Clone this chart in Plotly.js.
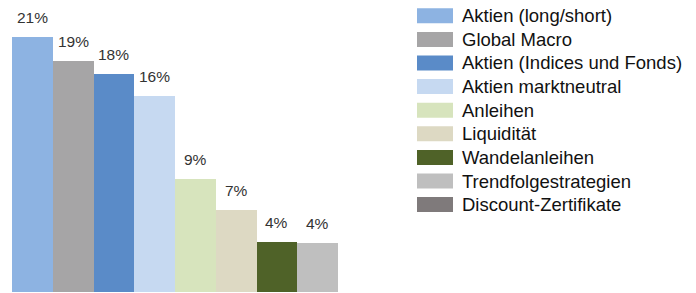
<!DOCTYPE html>
<html>
<head>
<meta charset="utf-8">
<script src="https://cdn.plot.ly/plotly-3.0.1.min.js"></script>
<style>html,body{margin:0;padding:0;background:#fff;}#chart{width:696px;height:293px;}</style>
</head>
<body>
<div id="chart"></div>
<script>
var categories = ["Aktien (long/short)", "Global Macro", "Aktien (Indices und Fonds)", "Aktien marktneutral", "Anleihen", "Liquidität", "Wandelanleihen", "Trendfolgestrategien", "Discount-Zertifikate"];
var values = [21.0, 19.0, 17.9, 16.1, 9.3, 6.7, 4.1, 4.0, null];
var labels = ["21%", "19%", "18%", "16%", "9%", "7%", "4%", "4%", ""];
var colors = ["#8DB3E2", "#A6A5A6", "#5A8BC8", "#C6D9F1", "#D7E4BD", "#DDD9C3", "#4F6228", "#BFBFBF", "#7F7A7B"];

var W = 696, H = 293;
var M = { l: 12, r: 358, t: 0, b: 1 };
var plotW = W - M.l - M.r, plotH = H - M.t - M.b;
function px2x(px) { return (px - M.l) / plotW; }
function py2y(py) { return (plotH + M.t - py) / plotH; }

var traces = categories.map(function (c, i) {
  return {
    type: "bar",
    name: c,
    x: [c],
    y: [values[i]],
    marker: { color: colors[i], line: { width: 0 } },
    hoverinfo: "name+y",
    showlegend: false
  };
});

var annotations = [];
var shapes = [];
categories.forEach(function (c, i) {
  if (values[i] !== null) {
    annotations.push({
      x: c, y: values[i], xref: "x", yref: "y",
      text: labels[i], showarrow: false,
      yanchor: "bottom", yshift: 9,
      font: { family: "Liberation Sans, Arial, sans-serif", size: 15.5, color: "#333333" }
    });
  }
  // legend entry (swatch + label)
  var cy = 15.8 + 23.6 * i;
  shapes.push({
    type: "rect", xref: "paper", yref: "paper",
    x0: px2x(417), x1: px2x(453), y0: py2y(cy + 7.5), y1: py2y(cy - 7.5),
    fillcolor: colors[i], line: { width: 0 }
  });
  annotations.push({
    x: px2x(461), y: py2y(cy), xref: "paper", yref: "paper",
    xanchor: "left", yanchor: "middle", showarrow: false,
    text: c, borderpad: 0,
    font: { family: "Liberation Sans, Arial, sans-serif", size: 18.5, color: "#111111" }
  });
});

var layout = {
  width: W, height: H,
  margin: { l: M.l, r: M.r, t: M.t, b: M.b, pad: 0 },
  paper_bgcolor: "#ffffff", plot_bgcolor: "#ffffff",
  barmode: "overlay", bargap: 0,
  showlegend: false,
  xaxis: { type: "category", range: [-0.5, 7.5], showticklabels: false, showgrid: false, zeroline: false, showline: false, ticks: "" },
  yaxis: { range: [0, 24.0], showticklabels: false, showgrid: false, zeroline: false, showline: false, ticks: "" },
  annotations: annotations,
  shapes: shapes
};

Plotly.newPlot("chart", traces, layout, { displayModeBar: false, staticPlot: true });
</script>
</body>
</html>
